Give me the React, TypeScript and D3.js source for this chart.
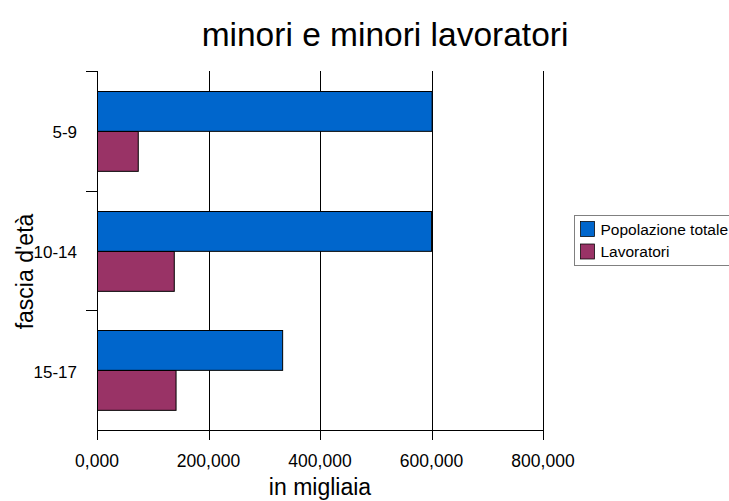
import React from "react";
import * as d3 from "d3";

// ILO estimates, millions
const categories = ["5-9", "10-14", "15-17"];
const seriesNames = ["Popolazione totale", "Lavoratori"];
const popolazione = [600.2, 599.2, 332.1];
const lavoratori = [73.1, 137.7, 140.9];
const xTicks = [0, 200, 400, 600, 800];
const colors = ["#0066CC", "#993366"];

const itLocale = d3.formatLocale({ decimal: ",", thousands: ".", grouping: [3], currency: ["", "€"] });
const fmt = itLocale.format(".3f");

const FONT = "'Liberation Sans', Arial, sans-serif";

export default function App() {
  const left = 97, right = 543, top = 71, bottom = 430;

  const x = d3.scaleLinear().domain([0, 800]).range([left, right]);
  const y = d3.scaleBand().domain(categories).range([top, bottom]);
  const inner = d3.scaleBand().domain(seriesNames).range([20, y.bandwidth() - 20]);

  const values = [popolazione, lavoratori];
  const bandEdges = categories.map((c) => y(c)!);

  return (
    <svg width={729} height={501} style={{ position: "absolute", left: 0, top: 0 }} fontFamily={FONT}>
      <rect width={729} height={501} fill="#fff" />
      <text x={385} y={46} fontSize={33.5} textAnchor="middle">minori e minori lavoratori</text>

      {/* gridlines */}
      {xTicks.slice(1).map((t) => (
        <line key={t} x1={Math.round(x(t)) + 0.5} x2={Math.round(x(t)) + 0.5} y1={top} y2={bottom} stroke="#000" />
      ))}

      {/* bars */}
      {categories.map((c, i) => (
        <g key={c}>
          {seriesNames.map((s, j) => (
            <rect
              key={s}
              x={x(0) + 0.5}
              y={Math.round(y(c)! + inner(s)!) + 0.5}
              width={x(values[j][i]) - x(0)}
              height={inner.bandwidth()}
              fill={colors[j]}
              stroke="#000"
            />
          ))}
        </g>
      ))}

      {/* y axis */}
      <line x1={left + 0.5} x2={left + 0.5} y1={top} y2={bottom + 10} stroke="#000" />
      {bandEdges.map((e, i) => (
        <line key={i} x1={left - 11} x2={left} y1={Math.round(e) + 0.5} y2={Math.round(e) + 0.5} stroke="#000" />
      ))}
      {categories.map((c) => (
        <text key={c} x={77} y={y(c)! + y.bandwidth() / 2 + 7.5} fontSize={17} textAnchor="end">{c}</text>
      ))}
      <text transform="translate(33,271.5) rotate(-90)" fontSize={23} textAnchor="middle">fascia d'età</text>

      {/* x axis */}
      <line x1={left} x2={right + 0.5} y1={bottom + 0.5} y2={bottom + 0.5} stroke="#000" />
      {xTicks.map((t) => (
        <g key={t}>
          <line x1={Math.round(x(t)) + 0.5} x2={Math.round(x(t)) + 0.5} y1={bottom} y2={bottom + 10} stroke="#000" />
          <text x={x(t)} y={466.5} fontSize={17.5} textAnchor="middle">{fmt(t)}</text>
        </g>
      ))}
      <text x={(left + right) / 2} y={495} fontSize={23} textAnchor="middle">in migliaia</text>

      {/* legend */}
      <rect x={574.5} y={215.5} width={160} height={50} fill="#fff" stroke="#808080" />
      {seriesNames.map((s, j) => (
        <g key={s}>
          <rect x={580.5} y={221.5 + j * 22.5} width={14} height={15} fill={colors[j]} stroke="#000" strokeWidth={0.75} />
          <text x={600.5} y={235 + j * 21.7} fontSize={15.5}>{s}</text>
        </g>
      ))}
    </svg>
  );
}
